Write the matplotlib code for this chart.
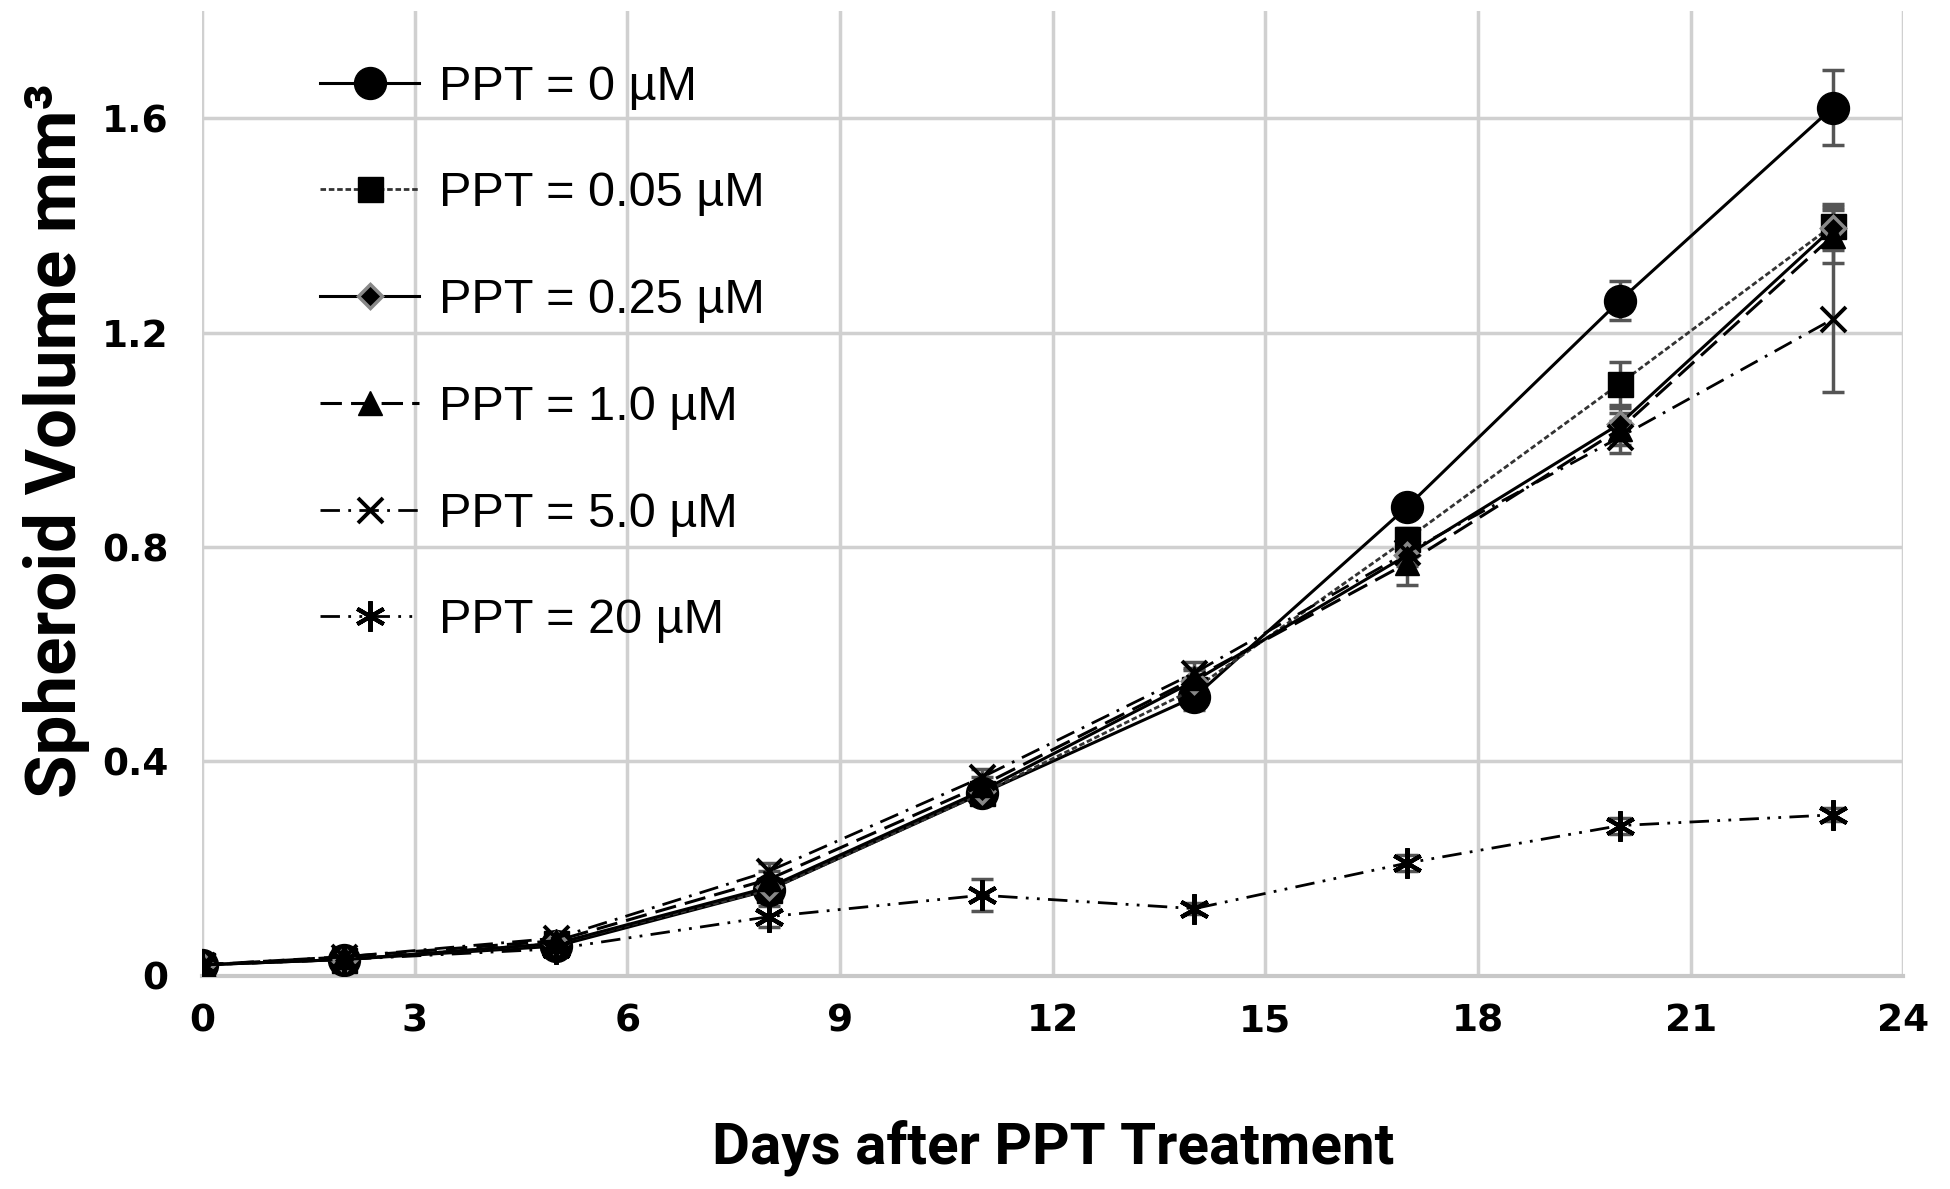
import matplotlib
matplotlib.use("Agg")
import matplotlib.pyplot as plt
from matplotlib import font_manager

days = [0, 2, 5, 8, 11, 14, 17, 20, 23]
labels = ["PPT = 0 µM", "PPT = 0.05 µM", "PPT = 0.25 µM", "PPT = 1.0 µM", "PPT = 5.0 µM", "PPT = 20 µM"]

v_0 = [0.02, 0.03, 0.055, 0.16, 0.34, 0.52, 0.875, 1.26, 1.62]
v_005 = [0.02, 0.03, 0.06, 0.16, 0.34, 0.535, 0.815, 1.105, 1.40]
v_025 = [0.02, 0.03, 0.06, 0.165, 0.345, 0.55, 0.785, 1.03, 1.395]
v_1 = [0.02, 0.035, 0.065, 0.18, 0.355, 0.555, 0.77, 1.02, 1.38]
v_5 = [0.02, 0.035, 0.07, 0.195, 0.37, 0.565, 0.79, 1.005, 1.225]
v_20 = [0.02, 0.03, 0.05, 0.11, 0.15, 0.125, 0.21, 0.28, 0.30]

e_0 = [0.01, 0.01, 0.01, 0.015, 0.015, 0.025, 0.015, 0.037, 0.07]
e_005 = [0.01, 0.01, 0.01, 0.015, 0.015, 0.02, 0.02, 0.04, 0.04]
e_025 = [0.01, 0.01, 0.01, 0.015, 0.015, 0.02, 0.02, 0.03, 0.04]
e_1 = [0.01, 0.01, 0.01, 0.015, 0.015, 0.02, 0.04, 0.03, 0.05]
e_5 = [0.01, 0.01, 0.01, 0.015, 0.015, 0.02, 0.02, 0.03, 0.135]
e_20 = [0.01, 0.01, 0.01, 0.02, 0.03, 0.01, 0.015, 0.015, 0.012]

xticks = [0, 3, 6, 9, 12, 15, 18, 21, 24]
yticks = [0, 0.4, 0.8, 1.2, 1.6]
ytick_labels = ["0", "0.4", "0.8", "1.2", "1.6"]

avail = {f.name for f in font_manager.fontManager.ttflist}
narrow = "Liberation Sans Narrow" if "Liberation Sans Narrow" in avail else "Roboto"

fig = plt.figure(figsize=(19.5, 11.89), dpi=100)
ax = fig.add_axes([0.1036, 0.1795, 0.8725, 0.811])

series = [
    (v_0, e_0, dict(color="black", lw=2.2, ls="-", marker="o", ms=23, mfc="black", mec="black")),
    (v_005, e_005, dict(color="#333333", lw=2.0, ls=(0, (2, 1)), marker="s", ms=18, mfc="black", mec="black")),
    (v_025, e_025, dict(color="black", lw=2.2, ls="-", marker="D", ms=12, mfc="black", mec="#888888", mew=2.5)),
    (v_1, e_1, dict(color="black", lw=2.2, ls=(0, (7, 3)), marker="^", ms=17, mfc="black", mec="black")),
    (v_5, e_5, dict(color="black", lw=2.0, ls=(0, (7, 3, 1, 3)), marker="x", ms=18, mec="black", mew=2.8)),
    (v_20, e_20, dict(color="black", lw=2.0, ls=(0, (7, 3, 1, 3, 1, 3)), marker=(6, 2, 0), ms=22, mec="black", mew=3)),
]

handles = []
for (vals, errs, st), lab in zip(series, labels):
    ax.errorbar(days, vals, yerr=errs, fmt="none", ecolor="#555555", elinewidth=2.5,
                capsize=8, capthick=2.5, zorder=2)
    h, = ax.plot(days, vals, label=lab, zorder=3, **st)
    handles.append(h)

ax.set_xlim(0, 24)
ax.set_ylim(0, 1.8)
ax.set_xticks(xticks)
ax.set_yticks(yticks)
ax.set_yticklabels(ytick_labels)
ax.grid(True, color="#d0d0d0", lw=2.5)
ax.set_axisbelow(True)
for s in ["top", "right", "left"]:
    ax.spines[s].set_visible(False)
ax.spines["bottom"].set_color("#c8c8c8")
ax.spines["bottom"].set_linewidth(3)
ax.tick_params(length=0, labelsize=27)
ax.tick_params(axis="x", pad=20)
ax.tick_params(axis="y", pad=24)
for t in ax.get_xticklabels() + ax.get_yticklabels():
    t.set_fontweight("bold")
    t.set_family("DejaVu Sans")

ax.set_xlabel("Days after PPT Treatment", fontsize=42, fontweight="bold", family=narrow, labelpad=58)
ax.set_ylabel("Spheroid Volume mm³", fontsize=51, fontweight="bold", family=narrow)
ax.yaxis.set_label_coords(-0.066, 0.555)

leg = ax.legend(handles=handles, loc="upper left", bbox_to_anchor=(0.0435, 0.99), frameon=False,
                prop={"family": "Liberation Sans", "size": 35}, handlelength=2.05,
                labelspacing=1.27, handletextpad=0.4)

fig.savefig("out.png", dpi=100, facecolor="white")
